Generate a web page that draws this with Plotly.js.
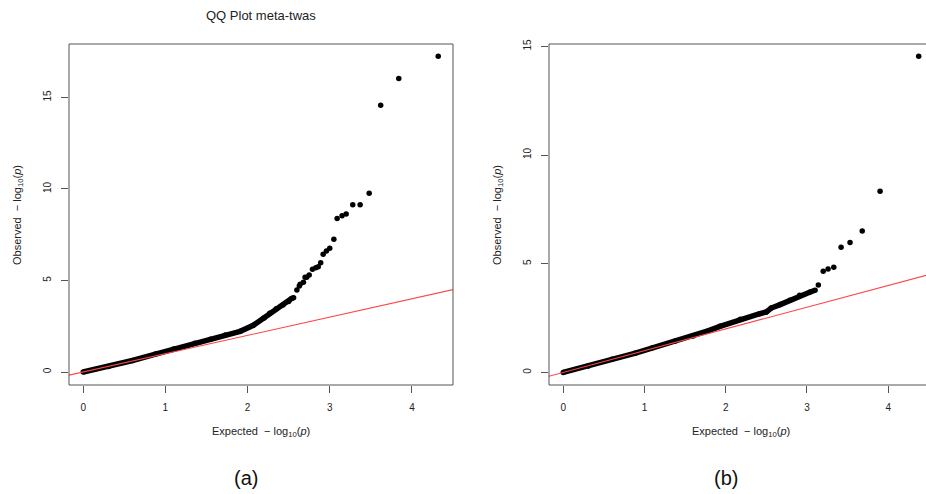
<!DOCTYPE html>
<html>
<head>
<meta charset="utf-8">
<script src="https://cdn.plot.ly/plotly-3.0.1.min.js"></script>
<style>html,body{margin:0;padding:0;background:#fff;}#chart{width:926px;height:494px;}</style>
</head>
<body>
<div id="chart"></div>
<script>
// Panel (a): dense body of the QQ curve (expected, observed)
const bodyAExp = [0.00, 0.31, 0.60, 0.88, 1.10, 1.36, 1.55, 1.73, 1.91, 2.07, 2.20, 2.27, 2.35, 2.43, 2.50, 2.54];
const bodyAObs = [0.00, 0.30, 0.63, 0.98, 1.25, 1.57, 1.79, 2.02, 2.22, 2.55, 2.95, 3.21, 3.45, 3.66, 3.85, 4.03];
// Panel (a): tail points
const tailAExp = [2.56, 2.60, 2.63, 2.64, 2.68, 2.70, 2.72, 2.75, 2.79, 2.83, 2.86, 2.89, 2.92, 2.96, 3.00, 3.05, 3.09, 3.15, 3.20, 3.28, 3.37, 3.48, 3.62, 3.84, 4.32];
const tailAObs = [4.06, 4.48, 4.70, 4.80, 4.90, 5.17, 5.17, 5.30, 5.61, 5.70, 5.75, 5.97, 6.43, 6.61, 6.76, 7.25, 8.38, 8.54, 8.63, 9.14, 9.14, 9.77, 14.57, 16.03, 17.25];
// Panel (b): dense body
const bodyBExp = [0.00, 0.31, 0.60, 0.89, 1.10, 1.38, 1.60, 1.79, 1.93, 2.18, 2.42, 2.50, 2.56, 2.67, 2.79, 2.91, 3.04, 3.10];
const bodyBObs = [0.00, 0.29, 0.60, 0.89, 1.13, 1.44, 1.68, 1.92, 2.12, 2.45, 2.70, 2.78, 2.96, 3.12, 3.32, 3.55, 3.70, 3.78];
// Panel (b): tail points
const tailBExp = [3.14, 3.20, 3.26, 3.33, 3.42, 3.53, 3.68, 3.90, 4.375];
const tailBObs = [4.02, 4.65, 4.76, 4.84, 5.76, 5.98, 6.51, 8.34, 14.55];
// Reference line y = x
const refX = [-1, 6];
const refY = [-1, 6];

const xTicks = [0, 1, 2, 3, 4];
const yTicksA = [0, 5, 10, 15];
const yTicksB = [0, 5, 10, 15];

const FONT = 'Liberation Sans, Arial, sans-serif';
const TXT = '#222';
const AX = '#555';

const dotStyle = {color: '#000', size: 5.5};
const traces = [
  {x: bodyAExp, y: bodyAObs, xaxis: 'x', yaxis: 'y', mode: 'lines+markers', line: {color: '#000', width: 5.5}, marker: dotStyle, hoverinfo: 'skip'},
  {x: tailAExp, y: tailAObs, xaxis: 'x', yaxis: 'y', mode: 'markers', marker: dotStyle, hoverinfo: 'skip'},
  {x: refX, y: refY, xaxis: 'x', yaxis: 'y', mode: 'lines', line: {color: 'rgb(255,70,70)', width: 1.1}, hoverinfo: 'skip'},
  {x: bodyBExp, y: bodyBObs, xaxis: 'x2', yaxis: 'y2', mode: 'lines+markers', line: {color: '#000', width: 5.5}, marker: dotStyle, hoverinfo: 'skip'},
  {x: tailBExp, y: tailBObs, xaxis: 'x2', yaxis: 'y2', mode: 'markers', marker: dotStyle, hoverinfo: 'skip'},
  {x: refX, y: refY, xaxis: 'x2', yaxis: 'y2', mode: 'lines', line: {color: 'rgb(255,70,70)', width: 1.1}, hoverinfo: 'skip'}
];

const W = 926, H = 494;
const px = v => v / W;
const py = v => 1 - v / H;

function xAxis(domain, range) {
  return {domain: domain, range: range, tickvals: xTicks, ticktext: xTicks.map(String),
    ticks: 'outside', ticklen: 7, tickcolor: AX, tickwidth: 1, showgrid: false, zeroline: false,
    showline: false, tickfont: {family: FONT, size: 10, color: TXT}, ticklabelstandoff: 6, fixedrange: true};
}
function yAxis(domain, range, ticks, anchor) {
  return {domain: domain, range: range, tickvals: ticks, ticktext: ticks.map(String), anchor: anchor,
    ticks: 'outside', ticklen: 7, tickcolor: AX, tickwidth: 1, showgrid: false, zeroline: false,
    showline: false, tickangle: -90, tickfont: {family: FONT, size: 10, color: TXT}, ticklabelstandoff: 6, fixedrange: true};
}

const yDom = [py(385), py(44)];
const layout = {
  width: W, height: H,
  margin: {l: 0, r: 0, t: 0, b: 0},
  paper_bgcolor: '#fff', plot_bgcolor: '#fff',
  showlegend: false,
  xaxis: Object.assign(xAxis([px(69), px(453)], [-0.173, 4.50]), {anchor: 'y'}),
  yaxis: yAxis(yDom, [-0.71, 17.92], yTicksA, 'x'),
  xaxis2: Object.assign(xAxis([px(549), 1], [-0.175, 4.465]), {anchor: 'y2'}),
  yaxis2: yAxis(yDom, [-0.58, 15.11], yTicksB, 'x2'),
  shapes: [
    {type: 'rect', xref: 'paper', yref: 'paper', x0: px(69), x1: px(453), y0: py(385), y1: py(44), line: {color: AX, width: 1}},
    {type: 'path', xref: 'paper', yref: 'paper', path: `M ${px(935)} ${py(44)} L ${px(549)} ${py(44)} L ${px(549)} ${py(385)} L ${px(935)} ${py(385)}`, line: {color: AX, width: 1}}
  ],
  annotations: [
    {text: 'QQ Plot meta-twas', x: px(261), y: py(15), xref: 'paper', yref: 'paper', showarrow: false, xanchor: 'center', yanchor: 'middle', font: {family: FONT, size: 13, color: TXT}},
    {text: 'Expected  \u2212 log<sub>10</sub>(<i>p</i>)', x: px(261), y: py(432), xref: 'paper', yref: 'paper', showarrow: false, xanchor: 'center', yanchor: 'middle', font: {family: FONT, size: 11, color: TXT}},
    {text: 'Expected  \u2212 log<sub>10</sub>(<i>p</i>)', x: px(741), y: py(432), xref: 'paper', yref: 'paper', showarrow: false, xanchor: 'center', yanchor: 'middle', font: {family: FONT, size: 11, color: TXT}},
    {text: 'Observed  \u2212 log<sub>10</sub>(<i>p</i>)', x: px(18), y: py(215), xref: 'paper', yref: 'paper', showarrow: false, textangle: -90, xanchor: 'center', yanchor: 'middle', font: {family: FONT, size: 11, color: TXT}},
    {text: 'Observed  \u2212 log<sub>10</sub>(<i>p</i>)', x: px(498), y: py(215), xref: 'paper', yref: 'paper', showarrow: false, textangle: -90, xanchor: 'center', yanchor: 'middle', font: {family: FONT, size: 11, color: TXT}},
    {text: '(a)', x: px(246), y: py(478), xref: 'paper', yref: 'paper', showarrow: false, xanchor: 'center', yanchor: 'middle', font: {family: FONT, size: 20, color: '#111'}},
    {text: '(b)', x: px(726), y: py(478), xref: 'paper', yref: 'paper', showarrow: false, xanchor: 'center', yanchor: 'middle', font: {family: FONT, size: 20, color: '#111'}}
  ]
};

Plotly.newPlot('chart', traces, layout, {staticPlot: true, displayModeBar: false});
</script>
</body>
</html>
